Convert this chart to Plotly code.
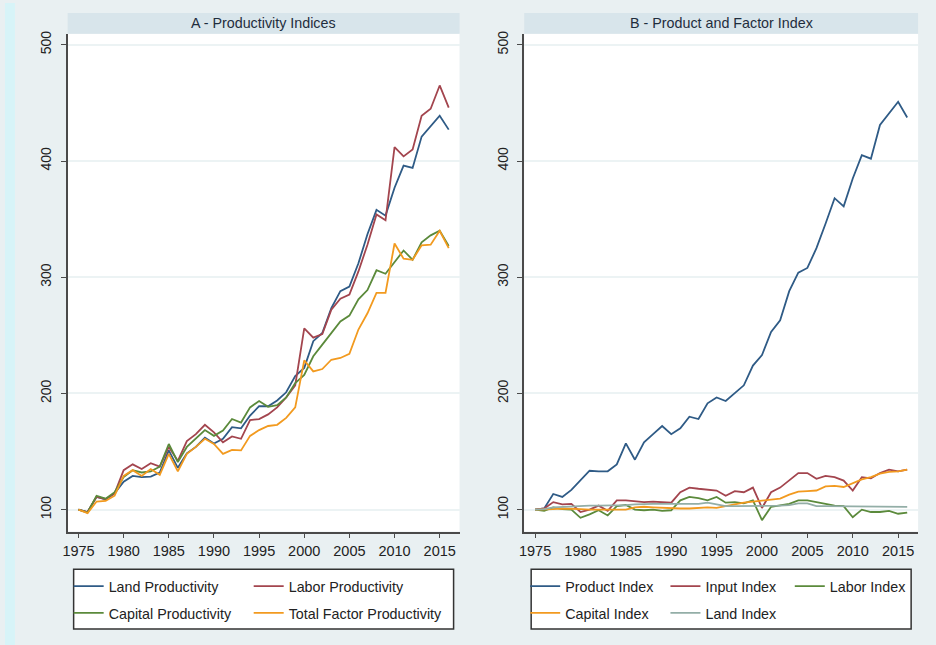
import plotly.graph_objects as go
from plotly.subplots import make_subplots

years = list(range(1975, 2017))

# Panel A - productivity indices (1975 = 100)
land_prod = [100, 98, 111, 109, 114, 124, 129, 128, 128.5, 132, 151, 136, 148.5, 154, 162, 157,
             161, 171, 170, 181, 189, 189, 194, 201, 215, 222, 245, 252, 273.5, 288, 292, 312,
             337, 358, 353, 377, 396, 394, 421, 430, 439, 427]
labor_prod = [100, 98, 111, 109, 114, 134, 139, 135, 140, 137, 154, 142, 159, 165, 173, 166.5,
              158, 163, 161, 177, 178, 182, 188, 196.5, 207, 256, 248, 251, 272, 281.5, 285, 305,
              328, 354, 349, 412, 404, 410, 439, 445, 465, 446]
capital_prod = [100, 97.5, 112, 109.5, 115, 128, 134, 132, 133, 137, 156.5, 141, 154, 161, 168.5,
                163.5, 168, 178, 175, 188, 193.5, 188.5, 190, 196.5, 209, 216, 232, 242, 252, 262,
                267, 281, 289, 306, 303, 313, 323, 315, 330, 336, 340, 327]
tfp = [100, 97, 107, 107.5, 112, 129, 134, 129, 135, 130, 148, 133, 148, 154, 161, 156.5, 148,
       151.5, 151, 163.5, 168.5, 172, 173, 179, 188, 228.5, 219, 221, 229, 230.5, 234, 255, 269,
       286.5, 286.5, 329, 316, 315, 327.5, 328, 340, 325]

# Panel B - product and factor indices (1975 = 100)
product_idx = [100, 101, 113.5, 111, 117, 125, 133.5, 133, 133, 139, 157, 143, 158, 165, 172, 165,
               170, 180, 178, 191.5, 196.5, 193.5, 200, 207, 224, 233, 253, 263, 288, 304, 308,
               325, 346, 368, 361, 385, 405, 402, 431, 440.5, 451, 437.5]
input_idx = [100, 101, 106.5, 104.5, 105, 98, 100, 103.5, 99, 108, 108, 107.5, 106.5, 107, 106.5,
             106, 115, 119, 118, 117.5, 116.5, 112, 116, 115, 119, 101.5, 115, 119, 125, 131.5,
             131.5, 126.5, 129, 128, 125, 116.5, 128, 127, 131.5, 134.5, 133, 134.5]
labor_idx = [100, 99, 102, 100.5, 100, 93, 96, 99.5, 95, 103, 104, 100, 99.5, 100, 99, 99.5, 108,
             111, 110, 108, 111, 106, 106.5, 105.5, 108, 91, 102.5, 103.5, 105, 108, 108, 106.5,
             105, 103.5, 103, 93.5, 100, 98, 98, 99, 96.5, 97.5]
capital_idx = [100, 100, 100.5, 101, 101, 100.5, 100, 100, 100, 100, 100, 102, 102.5, 102, 101.5,
               101, 101, 101, 101.5, 102, 101.5, 103, 105, 106, 107, 108, 109, 109.5, 113, 115.5,
               116, 116.5, 120, 120.5, 119.5, 122.5, 126, 128, 131, 132.5, 133, 134.5]
land_idx = [100, 100.5, 102, 102.5, 103, 103, 103.5, 103.5, 103.5, 104, 104, 104.5, 105, 105, 105,
            105, 105.5, 105.5, 105, 106, 104.5, 103, 103, 103, 103, 103, 103, 103.5, 104, 105.5,
            105.5, 103, 103, 103, 103, 102.5, 102.5, 102.5, 102.5, 103, 103, 102.5]

W, H = 936, 645
blue, red, green, orange, teal = '#2f5b86', '#a3454e', '#5b8a3b', '#f29a1f', '#93aea7'

# (name, values, colour, column, legend id, legend text x, legend row y) in pixels
series = [
    ('Land Productivity', land_prod, blue, 1, 'legend', 108, 586),
    ('Labor Productivity', labor_prod, red, 1, 'legend2', 289, 586),
    ('Capital Productivity', capital_prod, green, 1, 'legend3', 108, 613),
    ('Total Factor Productivity', tfp, orange, 1, 'legend4', 289, 613),
    ('Product Index', product_idx, blue, 2, 'legend5', 567, 586),
    ('Input Index', input_idx, red, 2, 'legend6', 708, 586),
    ('Labor Index', labor_idx, green, 2, 'legend7', 833, 586),
    ('Capital Index', capital_idx, orange, 2, 'legend8', 567, 613),
    ('Land Index', land_idx, teal, 2, 'legend9', 708, 613),
]

fig = make_subplots(rows=1, cols=2)
family = 'Liberation Sans, Arial, sans-serif'
font = dict(family=family, size=14.3, color='#222222')

legends = {}
for name, vals, col, c, leg, lx, ly in series:
    fig.add_trace(go.Scatter(x=years, y=vals, mode='lines', name=name,
                             line=dict(color=col, width=1.8), legend=leg),
                  row=1, col=c)
    legends[leg] = dict(x=(lx - 44) / W, y=1 - ly / H, xanchor='left', yanchor='middle',
                        orientation='h', bgcolor='rgba(0,0,0,0)', borderwidth=0,
                        font=font, itemclick=False)
fig.update_layout(**legends)

panels = [(63, 457, 'A - Productivity Indices'), (522, 918, 'B - Product and Factor Index')]
y_top, y_bot = 31, 531
for i, (x0, x1, title) in enumerate(panels, start=1):
    ax = '' if i == 1 else str(i)
    fig.update_layout(**{
        'xaxis' + ax: dict(domain=[x0 / W, x1 / W], range=[1973.8, 2017.2],
                           tickvals=list(range(1975, 2020, 5)), showgrid=False, zeroline=False,
                           showline=True, linecolor='#4a4a4a', linewidth=1.5,
                           ticks='outside', ticklen=5, tickcolor='#4a4a4a', tickwidth=1.2,
                           tickfont=dict(family=family, size=14.5, color='#222222')),
        'yaxis' + ax: dict(domain=[1 - y_bot / H, 1 - y_top / H], range=[81.2, 509.4],
                           tickvals=[100, 200, 300, 400, 500], showgrid=True,
                           gridcolor='#ecf3f4', gridwidth=1.5, zeroline=False,
                           showline=True, linecolor='#4a4a4a', linewidth=1.5,
                           ticks='outside', ticklen=5, tickcolor='#4a4a4a', tickwidth=1.2,
                           tickangle=-90, ticklabelstandoff=4,
                           tickfont=dict(family=family, size=14, color='#222222')),
    })
    # title strip
    fig.add_shape(type='rect', xref='paper', yref='paper', x0=x0 / W, x1=x1 / W,
                  y0=1 - y_top / H, y1=1 - 10 / H, fillcolor='#d8e5eb', line_width=0,
                  layer='below')
    fig.add_annotation(x=(x0 + x1) / 2 / W, y=1 - 20.5 / H, xref='paper', yref='paper',
                       text=title, showarrow=False, xanchor='center', yanchor='middle',
                       font=dict(family=family, size=14.3, color='#1f2d3d'))

# legend boxes
for x0, x1 in [(69, 451), (529, 911)]:
    fig.add_shape(type='rect', xref='paper', yref='paper', x0=x0 / W, x1=x1 / W,
                  y0=1 - 629 / H, y1=1 - 569 / H, fillcolor='white',
                  line=dict(color='#333333', width=1.5), layer='below')

# light cyan strip at the far left edge
fig.add_shape(type='rect', xref='paper', yref='paper', x0=0, x1=10 / W, y0=0, y1=1,
              fillcolor='#d7f4f8', line_width=0, layer='below')

fig.update_layout(width=W, height=H, margin=dict(l=0, r=0, t=0, b=0),
                  paper_bgcolor='#e9f0f2', plot_bgcolor='white', font=font,
                  showlegend=True)

# drop the default page margin so the figure fills the window
fig.write_html('out.html', config={'displayModeBar': False},
               post_script="document.body.style.margin='0';")
